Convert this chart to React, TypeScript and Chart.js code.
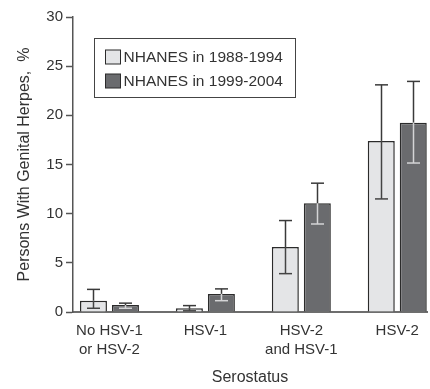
import React, { useEffect, useRef } from "react";
import { Chart, registerables } from "chart.js";

Chart.register(...registerables);

const CATEGORIES: string[][] = [
  ["No HSV-1", "or HSV-2"],
  ["HSV-1"],
  ["HSV-2", "and HSV-1"],
  ["HSV-2"],
];
const SERIES_NAMES = ["NHANES in 1988-1994", "NHANES in 1999-2004"];
const VALUES_1988 = [1.15, 0.38, 6.6, 17.4];
const LOW_1988 = [0.38, 0.12, 3.9, 11.5];
const HIGH_1988 = [2.3, 0.65, 9.3, 23.1];
const VALUES_1999 = [0.7, 1.84, 11.05, 19.25];
const LOW_1999 = [0.38, 1.15, 8.95, 15.15];
const HIGH_1999 = [0.9, 2.35, 13.1, 23.45];
const Y_TICKS = [0, 5, 10, 15, 20, 25, 30];

const FONT = "'Liberation Sans', Arial, Helvetica, sans-serif";
const TEXT = "#333333";
const LIGHT = "#e4e5e7";
const DARK = "#6a6b6e";
const BORDER = "#2b2b2b";

const errorBarPlugin = {
  id: "errorBars",
  afterDatasetsDraw(chart: any) {
    const ctx = chart.ctx;
    const y = chart.scales.y;
    const sets = [
      { lo: LOW_1988, hi: HIGH_1988, inside: "#444444" },
      { lo: LOW_1999, hi: HIGH_1999, inside: "#d4d4d6" },
    ];
    ctx.save();
    ctx.lineWidth = 1.5;
    sets.forEach((s, di) => {
      const meta = chart.getDatasetMeta(di);
      meta.data.forEach((bar: any, j: number) => {
        const x = Math.round(bar.x) + 0.5;
        const top = bar.y;
        const yHi = y.getPixelForValue(s.hi[j]);
        const yLo = y.getPixelForValue(s.lo[j]);
        const cap = 6.5;
        const seg = (a: number, b: number, color: string) => {
          if (b <= a) return;
          ctx.strokeStyle = color;
          ctx.beginPath();
          ctx.moveTo(x, a);
          ctx.lineTo(x, b);
          ctx.stroke();
        };
        const capLine = (yy: number) => {
          ctx.strokeStyle = yy > top + 1 ? s.inside : "#3a3a3a";
          ctx.beginPath();
          ctx.moveTo(x - cap, yy);
          ctx.lineTo(x + cap, yy);
          ctx.stroke();
        };
        seg(yHi, Math.min(top, yLo), "#3a3a3a");
        seg(Math.max(yHi, top), yLo, s.inside);
        capLine(yHi);
        capLine(yLo);
      });
    });
    ctx.restore();
  },
};

const legendPlugin = {
  id: "boxLegend",
  afterDraw(chart: any) {
    const ctx = chart.ctx;
    ctx.save();
    ctx.strokeStyle = "#444444";
    ctx.lineWidth = 1;
    ctx.strokeRect(94.5, 38.5, 201, 59);
    const fills = [LIGHT, DARK];
    const rows = [57, 81];
    ctx.font = `15.5px ${FONT}`;
    ctx.textBaseline = "middle";
    ctx.textAlign = "left";
    SERIES_NAMES.forEach((name, i) => {
      const cy = rows[i];
      ctx.fillStyle = fills[i];
      ctx.fillRect(105.5, cy - 7, 15, 14);
      ctx.strokeStyle = BORDER;
      ctx.strokeRect(105.5, cy - 7, 15, 14);
      ctx.fillStyle = TEXT;
      ctx.fillText(name, 123.5, cy + 0.5);
    });
    ctx.restore();
  },
};

export default function App() {
  const ref = useRef<HTMLCanvasElement | null>(null);
  useEffect(() => {
    if (!ref.current) return;
    const chart = new Chart(ref.current, {
      type: "bar",
      data: {
        datasets: [
          {
            label: SERIES_NAMES[0],
            data: VALUES_1988.map((v, i) => ({ x: i, y: v })),
            backgroundColor: LIGHT,
            borderColor: BORDER,
            borderWidth: 1.5,
            categoryPercentage: 0.667,
            barPercentage: 0.844,
          },
          {
            label: SERIES_NAMES[1],
            data: VALUES_1999.map((v, i) => ({ x: i, y: v })),
            backgroundColor: DARK,
            borderColor: BORDER,
            borderWidth: 1.5,
            categoryPercentage: 0.667,
            barPercentage: 0.844,
          },
        ],
      },
      options: {
        animation: false,
        responsive: true,
        maintainAspectRatio: false,
        layout: { padding: { left: 0, right: 3, top: 17, bottom: 0 } },
        plugins: {
          legend: { display: false },
          tooltip: { enabled: false },
        },
        scales: {
          x: {
            type: "linear",
            offset: false,
            min: -0.38,
            max: 3.31,
            afterBuildTicks: (scale: any) => {
              scale.ticks = CATEGORIES.map((_, i) => ({ value: i }));
            },
            afterFit: (scale: any) => {
              scale.height = 77;
            },
            grid: { display: false, drawTicks: false },
            border: { display: true, color: "#6e6e6e", width: 2 },
            ticks: {
              autoSkip: false,
              maxRotation: 0,
              padding: 9,
              color: TEXT,
              font: { family: FONT, size: 15, lineHeight: 1.27 },
              callback: (v: any) => CATEGORIES[v as number] ?? "",
            },
            title: {
              display: true,
              text: "Serostatus",
              color: TEXT,
              font: { family: FONT, size: 16 },
              padding: { top: 0, bottom: 2 },
            },
          },
          y: {
            min: 0,
            max: 30,
            afterBuildTicks: (scale: any) => {
              scale.ticks = Y_TICKS.map((v) => ({ value: v }));
            },
            afterFit: (scale: any) => {
              scale.width = 73;
            },
            grid: {
              display: true,
              drawOnChartArea: false,
              drawTicks: true,
              tickLength: 7,
              tickColor: "#555555",
              tickWidth: 1.5,
            },
            border: { display: true, color: "#555555", width: 1.5 },
            ticks: {
              padding: 3,
              color: TEXT,
              font: { family: FONT, size: 15 },
            },
            title: {
              display: true,
              text: "Persons With Genital Herpes,  %",
              color: TEXT,
              font: { family: FONT, size: 16 },
              padding: { top: 15, bottom: 0 },
            },
          },
        },
      },
      plugins: [errorBarPlugin, legendPlugin],
    } as any);
    return () => chart.destroy();
  }, []);
  return (
    <div style={{ position: "absolute", left: 0, top: 0, width: 430, height: 389, background: "#fff" }}>
      <canvas ref={ref} />
    </div>
  );
}
